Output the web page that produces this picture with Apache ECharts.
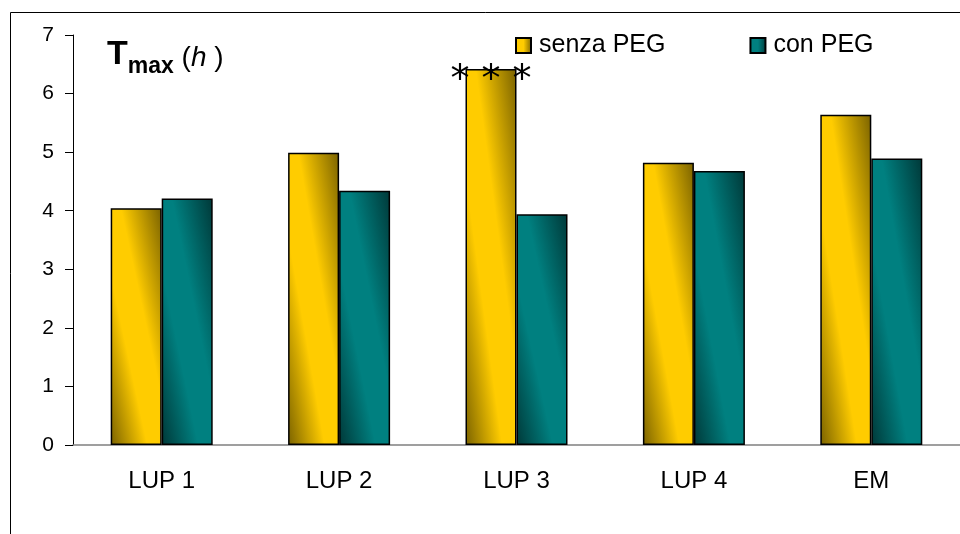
<!DOCTYPE html>
<html>
<head>
<meta charset="utf-8">
<script src="https://cdn.jsdelivr.net/npm/echarts@6/dist/echarts.min.js"></script>
<style>html,body{margin:0;padding:0;background:#fff;}#c{width:960px;height:534px;}</style>
</head>
<body>
<div id="c"></div>
<script>
var categories = ['LUP 1', 'LUP 2', 'LUP 3', 'LUP 4', 'EM'];
var senzaPEG = [4.04, 4.99, 6.42, 4.82, 5.64];
var conPEG = [4.21, 4.34, 3.94, 4.68, 4.89];
var seriesNames = ['senza PEG', 'con PEG'];
var yTicks = { min: 0, max: 7, interval: 1 };
var significance = ['', '', '* * *', '', ''];

var BAR_W = 51;
var YELLOW = ['#FFCC00', '#7A6200'];
var TEAL = ['#008080', '#003838'];
var chart = echarts.init(document.getElementById('c'));

// diagonal gradient whose iso-lines run along the bar's top-left -> bottom-right diagonal
function diagGrad(cols, h) {
  var w = BAR_W;
  var d = h * h + w * w;
  var x2 = 2 * h * h / d, y2 = 1 - 2 * w * w / d;
  return new echarts.graphic.LinearGradient(0, 1, x2, y2, [
    { offset: 0, color: cols[1] },
    { offset: 0.36, color: cols[0] },
    { offset: 0.6, color: cols[0] },
    { offset: 1, color: cols[1] }
  ]);
}
function plainGrad(cols) {
  return new echarts.graphic.LinearGradient(0, 0, 1, 0, [
    { offset: 0, color: cols[0] }, { offset: 0.5, color: cols[0] }, { offset: 1, color: cols[1] }
  ]);
}
var FONT = '"Liberation Sans", Arial, sans-serif';
function build(heightOf) {
  return [
    {
      name: seriesNames[0], type: 'bar',
      data: senzaPEG.map(function (v, i) {
        var item = { value: v };
        if (heightOf) item.itemStyle = { color: diagGrad(YELLOW, heightOf(v)) };
        if (significance[i]) item.label = { show: true, formatter: significance[i] };
        return item;
      }),
      barWidth: BAR_W, barGap: '0%',
      itemStyle: { color: plainGrad(YELLOW), borderColor: '#000', borderWidth: 1.5 },
      label: { show: false, position: 'top', distance: -31, fontSize: 38, color: '#000', fontFamily: '"DejaVu Sans"' }
    },
    {
      name: seriesNames[1], type: 'bar',
      data: conPEG.map(function (v) {
        var item = { value: v };
        if (heightOf) item.itemStyle = { color: diagGrad(TEAL, heightOf(v)) };
        return item;
      }),
      barWidth: BAR_W,
      itemStyle: { color: plainGrad(TEAL), borderColor: '#000', borderWidth: 1.5 }
    }
  ];
}
chart.setOption({
  animation: false,
  textStyle: { fontFamily: FONT, color: '#000' },
  grid: { left: 73, width: 903, top: 35, bottom: 89 },
  legend: {
    data: seriesNames,
    left: 510, top: 28, icon: 'rect',
    itemWidth: 15, itemHeight: 15, itemGap: 84,
    textStyle: { fontSize: 25, color: '#000', fontFamily: FONT, padding: [0, 0, 0, 3] }
  },
  xAxis: {
    type: 'category', data: categories,
    axisLine: { lineStyle: { color: '#808080', width: 1.5 } },
    axisTick: { length: 8, lineStyle: { color: '#000' } },
    axisLabel: { fontSize: 24, color: '#000', margin: 24, fontFamily: FONT }
  },
  yAxis: {
    type: 'value', min: yTicks.min, max: yTicks.max, interval: yTicks.interval,
    axisLine: { show: true, lineStyle: { color: '#000', width: 1 } },
    axisTick: { show: true, length: 8, lineStyle: { color: '#000' } },
    splitLine: { show: false },
    axisLabel: { fontSize: 21, color: '#000', margin: 19, fontFamily: FONT }
  },
  series: build(null),
  graphic: [
    { type: 'rect', shape: { x: 10.5, y: 12.5, width: 1000, height: 600 }, style: { fill: 'none', stroke: '#000', lineWidth: 1 }, silent: true, z: -1 },
    {
      type: 'text', left: 107, top: 38,
      style: {
        text: '{T|T}{s|max}{p| (}{h|h}{p| )}',
        rich: {
          T: { fontSize: 34, fontWeight: 'bold', fontFamily: FONT, verticalAlign: 'bottom', padding: [0, 0, 6, 0] },
          s: { fontSize: 23, fontWeight: 'bold', fontFamily: FONT, verticalAlign: 'bottom' },
          p: { fontSize: 28, fontFamily: FONT, verticalAlign: 'bottom', padding: [0, 0, 6, 0] },
          h: { fontSize: 28, fontStyle: 'italic', fontFamily: FONT, verticalAlign: 'bottom', padding: [0, 0, 6, 0] }
        },
        fill: '#000'
      }
    }
  ]
});
var y0 = chart.convertToPixel({ yAxisIndex: 0 }, 0);
chart.setOption({
  series: build(function (v) { return Math.abs(y0 - chart.convertToPixel({ yAxisIndex: 0 }, v)); })
});
</script>
</body>
</html>
